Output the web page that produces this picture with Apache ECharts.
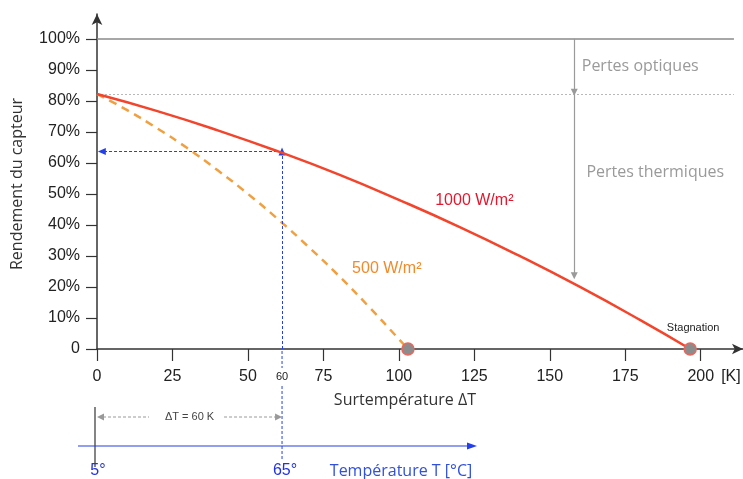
<!DOCTYPE html>
<html><head><meta charset="utf-8">
<script src="https://cdn.jsdelivr.net/npm/echarts@6/dist/echarts.min.js"></script>
<style>html,body{margin:0;padding:0;background:#fff}#c{width:743px;height:479px}</style>
</head><body><div id="c"></div>
<script>
// ---- data ----
const dT1000 = [0, 20, 40, 60, 80, 100, 120, 140, 160, 180, 196.5];
const eta1000 = [82.2, 76.7, 70.5, 63.7, 56.3, 48.1, 39.4, 30.0, 20.0, 9.3, 0];
const dT500 = [0, 10, 20, 30, 40, 50, 60, 70, 80, 90, 100, 103];
const eta500 = [82.2, 77.0, 71.1, 64.7, 57.6, 50.0, 41.8, 33.0, 23.7, 13.7, 3.2, 0];
const stagnation = [[103, 0], [196.5, 0]];
const xTicks = [0, 25, 50, 75, 100, 125, 150, 175, 200];
const yTicks = [0, 10, 20, 30, 40, 50, 60, 70, 80, 90, 100];
const etaOptical = 82.2;      // optical efficiency (dotted line)
const opPoint = [61.3, 63.7]; // operating point at dT = 60 K
const lossX = 158.1;          // x of the loss arrows
const lossCurveY = 23.6;
const seriesNames = ['1000 W/m²', '500 W/m²'];
const tempLabels = ['5°', '65°'];

const zip = (a, b) => a.map((v, i) => [v, b[i]]);

const chart = echarts.init(document.getElementById('c'));
const axisCol = '#333';
chart.setOption({
  animation: false,
  grid: { left: 97, right: 0, top: 14, bottom: 130 },
  xAxis: {
    type: 'value', min: 0, max: 214,
    axisLine: { lineStyle: { color: axisCol, width: 1.5 }, symbol: ['none', 'arrow'], symbolSize: [8, 11] },
    axisTick: { length: 12, lineStyle: { color: axisCol, width: 1.2 }, customValues: xTicks },
    axisLabel: { customValues: xTicks, margin: 20, color: '#222', fontSize: 16, fontFamily: 'Liberation Sans' },
    splitLine: { show: false }
  },
  yAxis: {
    type: 'value', min: 0, max: 108,
    axisLine: { lineStyle: { color: axisCol, width: 1.5 }, symbol: ['none', 'arrow'], symbolSize: [8, 11] },
    axisTick: { length: 11, lineStyle: { color: axisCol, width: 1.2 }, customValues: yTicks },
    axisLabel: { customValues: yTicks, margin: 17, color: '#222', fontSize: 16, fontFamily: 'Liberation Sans',
      formatter: v => v === 0 ? '0' : v + '%' },
    splitLine: { show: false }
  },
  series: [
    {
      name: seriesNames[0], type: 'line', smooth: true, showSymbol: false, z: 5,
      data: zip(dT1000, eta1000),
      lineStyle: { color: '#f2452c', width: 2.5 },
      markLine: {
        silent: true, symbol: ['none', 'none'], label: { show: false },
        data: [
          [{ coord: [0, 100], lineStyle: { color: '#8a8a8a', width: 1.5, type: 'solid' } }, { coord: [211, 100] }],
          [{ coord: [0, etaOptical], lineStyle: { color: '#b8b8b8', width: 1, type: [2, 2] } }, { coord: [211, etaOptical] }],
          [{ coord: [lossX, 100], lineStyle: { color: '#9a9a9a', width: 1.2, type: 'solid' } },
           { coord: [lossX, etaOptical + 0.6], symbol: 'triangle', symbolSize: [7, 7], symbolRotate: 180 }],
          [{ coord: [lossX, etaOptical], lineStyle: { color: '#9a9a9a', width: 1.2, type: 'solid' } },
           { coord: [lossX, lossCurveY], symbol: 'triangle', symbolSize: [7, 7], symbolRotate: 180 }],
          [{ coord: [opPoint[0], opPoint[1]], lineStyle: { color: '#2540e8', width: 1, type: [3, 2] } },
           { coord: [1.6, opPoint[1]], symbol: 'triangle', symbolSize: [7, 8], symbolRotate: 90 }],
          [{ coord: [opPoint[0], 0], lineStyle: { color: '#2540e8', width: 1, type: [3, 2] } },
           { coord: [opPoint[0], opPoint[1]], symbol: 'triangle', symbolSize: [7, 8], symbolRotate: 0 }]
        ]
      }
    },
    {
      name: seriesNames[1], type: 'line', smooth: true, showSymbol: false, z: 4,
      data: zip(dT500, eta500),
      lineStyle: { color: '#f0a040', width: 2.5, type: [8, 6] }
    },
    {
      name: 'Stagnation', type: 'scatter', symbolSize: 12, z: 6,
      data: stagnation,
      itemStyle: { color: '#8c8c8c', borderColor: '#e8675e', borderWidth: 1.5, opacity: 1 }
    }
  ]
});

const P = (x, y) => chart.convertToPixel({ gridIndex: 0 }, [x, y]);
const [x0, y0] = P(0, 0);
const x60 = P(opPoint[0], 0)[0];
const blue = '#2540e8';
const txt = (text, x, y, fill, font, extra) => Object.assign({
  type: 'text', x, y, silent: true,
  style: { text, fill, font, textAlign: 'center', textVerticalAlign: 'middle' }
}, extra || {});
const line = (x1, y1, x2, y2, stroke, w, dash) => ({
  type: 'line', silent: true, shape: { x1, y1, x2, y2 },
  style: { stroke, lineWidth: w, lineDash: dash || null }
});
const tri = (pts, fill) => ({ type: 'polygon', silent: true, shape: { points: pts }, style: { fill } });

const pOpt = P(lossX, (100 + etaOptical) / 2);
const pTh = P(lossX, 57);
const p1000 = P(125, 48);
const p500 = P(96, 26);
const pStag = P(stagnation[1][0], 0);
const xName = P(102, 0)[0];
const xK = P(210, 0)[0];
const yArrowDT = y0 + 68;
const yTemp = y0 + 97;
const yTempTxt = y0 + 122;

chart.setOption({
  graphic: [
    txt('Rendement du capteur', 17, 184, '#333', '16px "Open Sans"', { rotation: Math.PI / 2 }),
    txt('Surtempérature ΔT', xName, y0 + 51, '#333', '16px "Open Sans"'),
    txt('[K]', xK, y0 + 28, '#222', '16px "Liberation Sans"'),
    txt('60', x60, y0 + 28, '#222', '11px "Liberation Sans"'),
    txt('Pertes optiques', pOpt[0] + 66, pOpt[1], '#9a9a9a', '16px "Open Sans"'),
    txt('Pertes thermiques', pTh[0] + 81, pTh[1], '#9a9a9a', '16px "Open Sans"'),
    txt(seriesNames[0], p1000[0], p1000[1], '#e2182e', '16px "Liberation Sans"'),
    txt(seriesNames[1], p500[0], p500[1], '#f08a2a', '16px "Liberation Sans"'),
    txt('Stagnation', pStag[0] + 3, y0 - 21, '#222', '11px "Liberation Sans"'),
    // blue dotted vertical continuing below the axis
    line(x60, y0 + 2, x60, y0 + 19, blue, 1, [3, 2]),
    line(x60, y0 + 37, x60, y0 + 111, blue, 1, [3, 2]),
    // delta T arrow
    line(x0 + 6, yArrowDT, x0 + 52, yArrowDT, '#999', 1, [3, 2]),
    line(x60 - 58, yArrowDT, x60 - 6, yArrowDT, '#999', 1, [3, 2]),
    tri([[x0, yArrowDT], [x0 + 7, yArrowDT - 3.5], [x0 + 7, yArrowDT + 3.5]], '#999'),
    tri([[x60, yArrowDT], [x60 - 7, yArrowDT - 3.5], [x60 - 7, yArrowDT + 3.5]], '#999'),
    txt('ΔT = 60 K', (x0 + x60) / 2, yArrowDT, '#444', '11px "Liberation Sans"'),
    // temperature axis
    line(x0 - 2, y0 + 58, x0 - 2, y0 + 118, '#333', 1.2),
    line(x0 - 19, yTemp, x0 + 372, yTemp, blue, 1.2),
    tri([[x0 + 380, yTemp], [x0 + 370, yTemp - 3.5], [x0 + 370, yTemp + 3.5]], blue),
    txt(tempLabels[0], x0 + 1, yTempTxt, '#2233dd', '16px "Liberation Sans"'),
    txt(tempLabels[1], x60 + 3, yTempTxt, '#2233dd', '16px "Liberation Sans"'),
    txt('Température T [°C]', x0 + 304, yTempTxt, '#3050e0', '16px "Open Sans"')
  ]
});
</script>
</body></html>
